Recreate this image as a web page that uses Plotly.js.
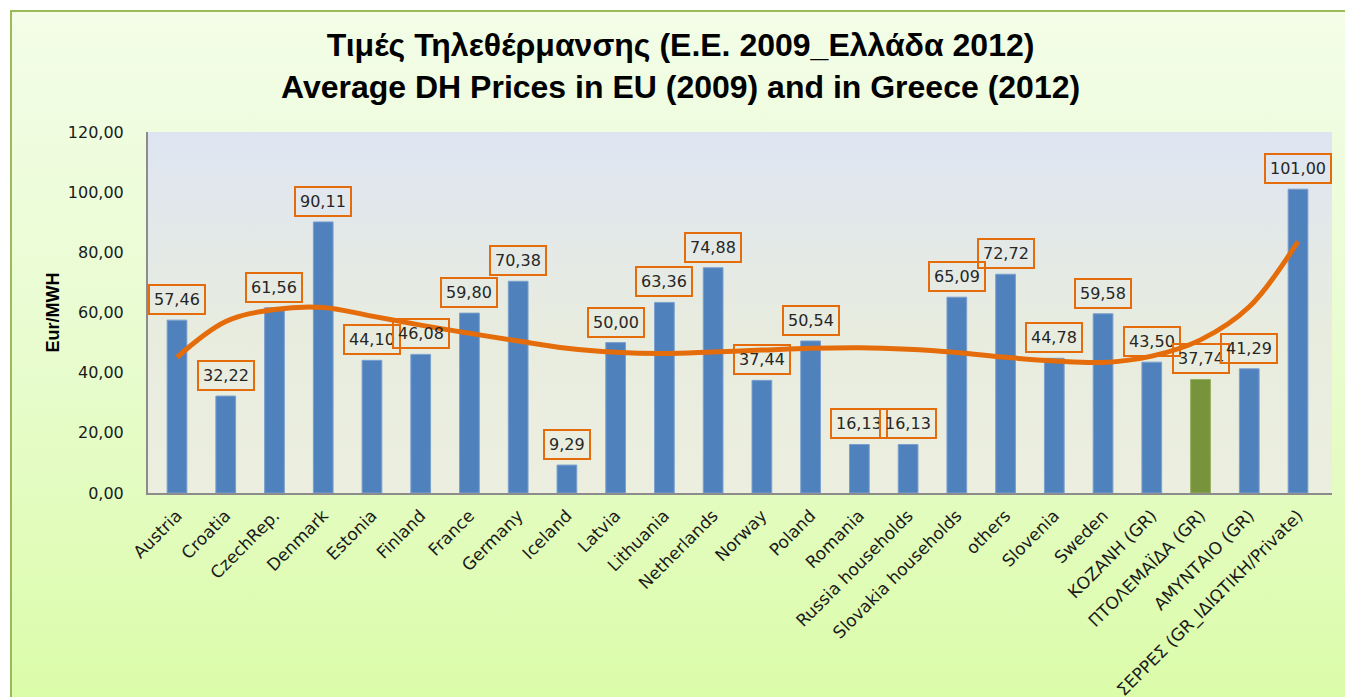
<!DOCTYPE html>
<html>
<head>
<meta charset="utf-8">
<script src="https://cdn.plot.ly/plotly-3.0.1.min.js"></script>
<style>
  html, body { margin: 0; padding: 0; background: #ffffff; width: 1345px; height: 697px; overflow: hidden; }
  #frame { position: absolute; left: 10px; top: 10px; width: 1345px; height: 697px;
           border-left: 2px solid #9bbb59; border-top: 2px solid #9bbb59;
           background: linear-gradient(to bottom, #f3fde8 0%, #e8fcce 50%, #dbfca8 100%); }
  #plotbg { position: absolute; left: 148px; top: 132px; width: 1184px; height: 361px;
            background: linear-gradient(to bottom, #dee5f2 0%, #e8ecdf 55%, #ecefdf 100%); }
  #chart { position: absolute; left: 0; top: 0; width: 1345px; height: 697px; }
</style>
</head>
<body>
<div id="frame"></div>
<div id="plotbg"></div>
<div id="chart"></div>
<script>
const categories = ["Austria", "Croatia", "CzechRep.", "Denmark", "Estonia", "Finland", "France", "Germany",
  "Iceland", "Latvia", "Lithuania", "Netherlands", "Norway", "Poland", "Romania", "Russia households",
  "Slovakia households", "others", "Slovenia", "Sweden", "ΚΟΖΑΝΗ (GR)", "ΠΤΟΛΕΜΑΪΔΑ (GR)",
  "ΑΜΥΝΤΑΙΟ (GR)", "ΣΕΡΡΕΣ (GR_ΙΔΙΩΤΙΚΗ/Private)"];
const prices = [57.46, 32.22, 61.56, 90.11, 44.10, 46.08, 59.80, 70.38, 9.29, 50.00, 63.36, 74.88,
  37.44, 50.54, 16.13, 16.13, 65.09, 72.72, 44.78, 59.58, 43.50, 37.74, 41.29, 101.00];
const trend = [45.1, 57.0, 61.0, 61.7, 58.8, 55.8, 53.1, 50.5, 48.1, 46.8, 46.4, 46.9,
  47.5, 48.1, 48.3, 47.8, 46.7, 45.1, 43.9, 43.4, 45.5, 50.9, 61.9, 83.6];
const highlight = "ΠΤΟΛΕΜΑΪΔΑ (GR)";

const barColors = categories.map(c => c === highlight ? "#77933c" : "#4f81bd");
const barLines = categories.map(c => c === highlight ? "#93ad5c" : "#7ba0cf");

const fmt = v => v.toFixed(2).replace(".", ",");

const traces = [
  {
    type: "bar", x: categories, y: prices,
    marker: { color: barColors, line: { color: barLines, width: 1 } },
    hoverinfo: "x+y", showlegend: false
  },
  {
    type: "scatter", mode: "lines", x: categories, y: trend,
    line: { color: "#e46c0a", width: 5, shape: "spline", smoothing: 1.0 },
    hoverinfo: "skip", showlegend: false
  }
];

const annotations = categories.map((c, i) => ({
  x: c, y: prices[i], xref: "x", yref: "y",
  text: fmt(prices[i]), showarrow: false,
  yanchor: "bottom", yshift: 5,
  font: { family: "DejaVu Sans", size: 16, color: "#262626" },
  bordercolor: "#e46c0a", borderwidth: 2, borderpad: 4,
  bgcolor: "rgba(0,0,0,0)"
}));
annotations.push({
  xref: "paper", yref: "paper", x: -0.081, y: 0.5, xanchor: "center", yanchor: "middle",
  text: "<b>Eur/MWH</b>", textangle: -90, showarrow: false,
  font: { family: "Liberation Sans", size: 18, color: "#000000" }
});

const layout = {
  width: 1345, height: 697,
  paper_bgcolor: "rgba(0,0,0,0)", plot_bgcolor: "rgba(0,0,0,0)",
  margin: { l: 148, r: 13, t: 132, b: 204, pad: 0 },
  separators: ",.",
  title: {
    text: "<b>Τιμές Τηλεθέρμανσης (Ε.Ε. 2009_Ελλάδα 2012)<br>Average DH Prices in EU (2009) and in Greece (2012)</b>",
    x: 0.506, xanchor: "center", xref: "container",
    y: 1 - 56 / 697, yanchor: "top", yref: "container",
    font: { family: "Liberation Sans", size: 32, color: "#000000" }
  },
  bargap: 0.595,
  xaxis: {
    type: "category", tickangle: -45, showgrid: false, zeroline: false,
    showline: true, linecolor: "#8c8c8c", linewidth: 2,
    ticks: "", ticklabelstandoff: 4,
    tickfont: { family: "DejaVu Sans", size: 17, color: "#1a1a1a" },
    fixedrange: true
  },
  yaxis: {
    range: [0, 120], dtick: 20, tickformat: ".2f",
    showgrid: false, zeroline: false,
    showline: true, linecolor: "#8c8c8c", linewidth: 2,
    ticks: "", ticklabelstandoff: 19,
    tickfont: { family: "DejaVu Sans", size: 16, color: "#1a1a1a" },
    fixedrange: true
  },
  annotations: annotations,
  hovermode: "closest"
};

Plotly.newPlot("chart", traces, layout, { displayModeBar: false, responsive: false });
</script>
</body>
</html>
